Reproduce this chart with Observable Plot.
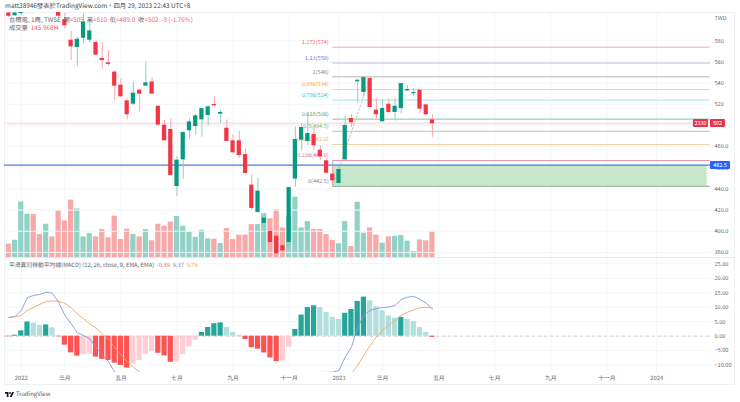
<!DOCTYPE html>
<html><head><meta charset="utf-8">
<script src="https://cdn.jsdelivr.net/npm/d3@7"></script>
<script src="https://cdn.jsdelivr.net/npm/@observablehq/plot@0.6"></script>
<style>
html,body{margin:0;padding:0;background:#fff}
#chart{position:relative;width:740px;height:402px;overflow:hidden;font-family:"Noto Sans CJK TC","Noto Sans",sans-serif;color:#666;text-rendering:geometricPrecision}
#chart svg{position:absolute;left:0;top:0;background:transparent;text-rendering:geometricPrecision}
.t{position:absolute;white-space:nowrap;line-height:1}
.frame{position:absolute;left:4px;top:12px;width:731px;height:373px;border:1px solid #eef0f4;box-sizing:border-box}
.sep{position:absolute;left:4px;top:257px;width:731px;height:1px;background:#e6e8ec}
.tag{position:absolute;color:#fff;font-size:5.5px;line-height:8px;height:8px;text-align:center;border-radius:1px}
</style></head><body>
<div id="chart"><div class="frame"></div><div class="sep"></div></div>
<script>
const open_ = [606,604,606,625,650,640,625,640,610,599.8,580.3,574,582.8,580.9,578.1,563,558.9,550.1,537.8,523,520.5,533.1,537.5,540.9,517.9,500,495.9,442.6,467.8,495.3,499.3,505.6,509.7,519.5,511,497.1,485.2,485.2,472.3,443.3,418.1,407.7,399.5,395.1,386,389.7,449.6,486.4,485.2,491.2,476.4,466.3,453.7,445.5,467.8,506.3,541.6,531.5,544.1,514.2,503.8,519.8,512.6,516.3,533,530.2,533,519.2,505];
const close_ = [603.5,606,625,650,640,625,640,625,603.6,594.5,574.6,581.2,597.6,589.1,566.8,561.7,558,537.5,527.4,510.4,530.2,529.9,540,529.9,500.6,485.8,453,466.9,493,503.1,508.8,515.7,517.3,518.9,512,485.2,474.5,471.9,454.9,421.9,437.6,412.1,389.7,379,381.8,441,486.4,497.8,492.1,481.1,470.7,455.2,448,458.1,499.7,502.8,542.5,545,517.3,510.4,515.7,512.6,517.9,539.3,533.7,530.8,515.7,510.4,502];
const high_ = [612,612,630,660,665,650,645,645,615,606.1,589.1,583.5,605.5,599.2,579.7,578.1,570.9,552,544.1,525.2,540.9,534.3,560.5,545,517.9,504.7,506.3,470.7,494.3,506.3,510.4,515.7,518.9,527.4,514.1,505.3,491.2,494.6,477.9,453.4,450.5,417.1,407,400.8,391.3,441.7,498.4,501.5,511,498.4,481.1,468.5,462.2,460.6,508.5,510.4,543.1,545.7,545.7,525.2,524.5,525.2,525.2,539.3,537.8,535.3,533,519.2,510];
const low_ = [602,603,604,620,635,620,620,620,602,591.3,561.4,555.1,577.1,577.8,566.1,552.6,556,523,526.1,505.3,518.9,512.6,536.8,529.3,500,485.8,453,432.9,448.9,486.4,491.2,488.9,499.3,517.3,502.2,485.2,472.6,469.1,454.9,419.6,417.1,395.1,385.6,377.1,377.1,386.6,441.7,476,481.1,476.3,466.9,454.3,443.3,443.3,466.9,498,521.1,526.8,516.7,505.3,503.1,511,504.1,511,532.1,526.8,511,509.1,489];
const volumeM = [76,98,316,246,244,131,189,117,265,208,326,276,117,136,117,159,112,235,102,161,131,117,159,95,189,178,201,233,178,144,115,155,106,104,80,165,102,127,127,187,187,248,220,271,168,233,343,168,204,159,159,131,97,78,204,62,314,138,168,127,81,117,121,125,93,34,100,95,146];
const histogram = [-0.2,0.35,1.85,4.9,4.5,3.8,3.9,2.9,-0.2,-3.1,-5.75,-6.9,-6.3,-6.2,-7.2,-8,-8.4,-9.3,-10.1,-11,-9.7,-8.4,-6.2,-5.2,-5.9,-6.8,-9,-8.9,-6.3,-3.7,-1.4,1.3,3,4.3,4.6,3,1.3,0.35,-1.15,-4,-4.5,-5.8,-7.5,-8.8,-8.6,-3.8,2.35,7.3,9.9,10.5,9.9,8.2,6.5,5.8,7.9,9.2,12,13.5,12.2,10.1,8.8,7,6.2,6.5,5.8,5,3,1.3,-0.39];
const macdLine = [6.47,6.8,8.9,13.3,14.1,14.4,15.2,14.8,11.8,7.2,4.3,1.2,0.25,-0.9,-3.8,-6.6,-8.7,-12.4,null,null,null,null,null,null,null,null,null,null,null,null,null,null,null,null,null,null,null,null,null,null,null,null,null,null,null,null,null,null,null,null,-12.5,-12.5,-12.4,-11.8,-7.2,-3.8,3.1,7.2,8.9,9.5,9.9,10.1,10.6,12.7,13.5,13.7,12.7,11.4,9.37];
const signalLine = [6.47,6.7,7.2,8.9,10,11,12,12.2,12.1,11.4,9.8,7.7,6,4.3,2.8,0.85,-1.1,-3.8,-6.4,-8.7,-10.7,-12.4,null,null,null,null,null,null,null,null,null,null,null,null,null,null,null,null,null,null,null,null,null,null,null,null,null,null,null,null,null,null,null,null,null,-12.9,-10.1,-6.6,-3.2,-0.3,2,3.9,5.4,7.2,8.3,9.1,9.8,10,9.76];
const weeks = open_.map((_, i) => i);

const fibLabels = ["1.272(574)","1.13(559)","1(546)","0.886(534)","0.786(524)","0.618(506)","0.5(494.5)","0.382(482.0)","0.236(466.9)","0(442.5)"];
const fibValues = [574,559,546,534,524,506,494.5,482,466.9,442.5];
const fibColors = ["#f6a9ae","#b3bfdd","#b5b5b5","#fbd49a","#a9dfe6","#86c2aa","#a8d0a8","#f4d2a4","#ee93a8","#8fa08f"];
const fibTextColors = ["#ee6b74","#5f80d0","#888888","#f5a940","#45bcd0","#4aa585","#7fb77f","#f0ac55","#e86a88","#888888"];
const fibStart = 52, fibEnd = 112.6, boxEnd = 112.1;
const trendWeeks = [52,58], trendPrices = [442.5,546];
const zoneLow = 442.5, zoneHigh = 462.5, keyLevel = 462.5, lastPrice = 502;

const priceTicks = [580,560,540,520,500,480,460,440,420,400,380];
const priceTickLabels = ["580","560","540","520","500","480.0","460.0","440.0","420.0","400.0","380.0"];
const macdTicks = [25,20,15,10,5,0,-5,-10];
const macdTickLabels = ["25.00","20.00","15.00","10.00","5.00","0.00","−5.00","−10.00"];
const timeTicks = [2,9,18,27,36,45,53,60,69,78,87,96,104];
const timeLabels = ["2022","三月","五月","七月","九月","十一月","2023","三月","五月","七月","九月","十一月","2024"];

const RED="#f23645", GREEN="#089981", WICK_R="#f7a8ae", WICK_G="#8fcfc3", VOL_R="#f7a9a7", VOL_G="#92d2c6";
const W=740, H=402, ML=4, MR=30, xDomain=[-0.69,112.63];
const font='"Noto Sans CJK TC","Noto Sans",sans-serif';
const base={width:W,height:H,marginLeft:ML,marginRight:MR,x:{domain:xDomain,axis:null},
  style:{background:"transparent",fontFamily:font}};
const up=i=>close_[i]>=open_[i];
const grid=Plot.gridX(timeTicks,{stroke:"#f3f5f8",strokeOpacity:1,clip:true});

// volume pane
const volPlot=Plot.plot({...base,marginTop:12,marginBottom:H-257,
  y:{domain:[0,1392],axis:null},
  marks:[grid,
    Plot.rectY(weeks,{x1:i=>i-0.42,x2:i=>i+0.42,y1:0,y2:i=>volumeM[i],fill:i=>up(i)?VOL_G:VOL_R})
  ]});

// price pane
const pricePlot=Plot.plot({...base,marginTop:12,marginBottom:H-257,
  y:{domain:[375.2,606.8],axis:null},
  marks:[
    Plot.gridY(priceTicks,{stroke:"#f3f5f8",strokeOpacity:1}),
    Plot.axisY(priceTicks,{anchor:"right",tickSize:0,tickPadding:4,label:null,fontSize:5.6,fill:"#666",
      tickFormat:v=>priceTickLabels[priceTicks.indexOf(v)]}),
    Plot.rect([0],{x1:fibStart,x2:boxEnd,y1:zoneLow,y2:zoneHigh,fill:"#c8e6c9"}),
    Plot.ruleY([lastPrice],{stroke:"#fbdfe2",strokeWidth:1.6}),
    Plot.ruleY(fibValues,{x1:fibStart,x2:fibEnd,stroke:(d,i)=>fibColors[i],strokeWidth:1}),
    Plot.ruleX([fibStart],{y1:zoneLow,y2:fibValues[8],stroke:"#9aa59a",strokeWidth:0.8}),
    Plot.text(fibValues,{x:fibStart,dx:-4,y:d=>d,text:(d,i)=>fibLabels[i],fill:(d,i)=>fibTextColors[i],
      textAnchor:"end",dy:-5,fontSize:5.6}),
    Plot.ruleY([keyLevel],{stroke:"#4f78e8",strokeWidth:1.3}),
    Plot.line(trendWeeks,{x:d=>d,y:(d,i)=>trendPrices[i],stroke:"#b8b8b8",strokeWidth:0.8,strokeDasharray:"2,2"}),
    Plot.ruleX(weeks,{x:i=>i,y1:i=>low_[i],y2:i=>high_[i],stroke:i=>up(i)?WICK_G:WICK_R,strokeWidth:1,clip:true}),
    Plot.rect(weeks,{x1:i=>i-0.34,x2:i=>i+0.34,y1:i=>Math.min(open_[i],close_[i])-0.3,y2:i=>Math.max(open_[i],close_[i])+0.3,fill:i=>up(i)?GREEN:RED,clip:true})
  ]});

// MACD pane
const histColor=i=>{const v=histogram[i],p=i?histogram[i-1]:0;
  return v>=0?(v>p?"#26a69a":"#b2dfdb"):(v<p?"#ff5252":"#ffcdd2");};
const macdPlot=Plot.plot({...base,marginTop:258,marginBottom:H-372,
  y:{domain:[-12.53,26.82],axis:null},
  marks:[grid,
    Plot.gridY(macdTicks,{stroke:"#f3f5f8",strokeOpacity:1}),
    Plot.axisY(macdTicks,{anchor:"right",tickSize:0,tickPadding:4,label:null,fontSize:5.6,fill:"#666",
      tickFormat:v=>macdTickLabels[macdTicks.indexOf(v)]}),
    Plot.axisX(timeTicks,{anchor:"bottom",tickSize:0,tickPadding:3,label:null,fontSize:5.8,fill:"#666",
      tickFormat:v=>timeLabels[timeTicks.indexOf(v)]}),
    Plot.ruleY([0],{stroke:"#c4c6cb",strokeWidth:0.8,strokeDasharray:"3,3"}),
    Plot.rectY(weeks,{x1:i=>i-0.42,x2:i=>i+0.42,y1:0,y2:i=>histogram[i],fill:histColor}),
    Plot.line(weeks,{x:i=>i,y:i=>macdLine[i],stroke:"#7f98e0",strokeWidth:0.9,clip:true}),
    Plot.line(weeks,{x:i=>i,y:i=>signalLine[i],stroke:"#f2a566",strokeWidth:0.9,clip:true})
  ]});

const chart=document.getElementById("chart");
chart.append(volPlot,pricePlot,macdPlot);

const yP=pricePlot.scale("y");
function addTag(left,width,value,text,bg){
  const d=document.createElement("div");d.className="tag";d.textContent=text;
  d.style.cssText=`left:${left}px;width:${width}px;top:${yP.apply(value)-4}px;background:${bg}`;chart.append(d);
}
addTag(693,15,lastPrice,"2330","#e8344a");
addTag(710,15,lastPrice,"502","#e8344a");
addTag(710,20,keyLevel,"462.5","#2962ff");

function addText(left,top,html,size){
  const d=document.createElement("div");d.className="t";d.innerHTML=html;
  d.style.cssText=`left:${left}px;top:${top}px;font-size:${size}px`;chart.append(d);return d;
}
const r='style="color:#f0606a"';
addText(5,2.5,"matt38946發表於TradingView.com，四月 29, 2023 22:43 UTC+8",6.4).style.color="#444";
addText(9,16.5,`台積電, 1周, TWSE&nbsp; 開<span ${r}>=505</span>&nbsp; 高<span ${r}>=510</span>&nbsp; 低<span ${r}>=489.0</span>&nbsp; 收<span ${r}>=502&nbsp; -9 (-1.76%)</span>`,6.3);
addText(9,25,`成交量&nbsp; <span ${r}>145.968M</span>`,6.3);
addText(9,261.5,`平滑異同移動平均線(MACD) (12, 26, close, 9, EMA, EMA)&nbsp; <span ${r}>-0.39</span>&nbsp; <span style="color:#6f8ce0">9.37</span>&nbsp; <span style="color:#f2a566">9.76</span>`,5.8);
addText(714.5,16,"TWD",5.6);
addText(16,391,"TradingView",6).style.color="#555";
const ns="http://www.w3.org/2000/svg";
const logo=document.createElementNS(ns,"svg");
logo.setAttribute("viewBox","0 0 36 20");logo.setAttribute("width","9");logo.setAttribute("height","5");
logo.style.cssText="left:5px;top:392px";
logo.innerHTML='<path d="M0 0h14v20H7V7H0z" fill="#131722"/><circle cx="20" cy="4" r="3.6" fill="#131722"/><path d="M28 0h8l-9 20h-8z" fill="#131722"/>';
chart.append(logo);
</script></body></html>
